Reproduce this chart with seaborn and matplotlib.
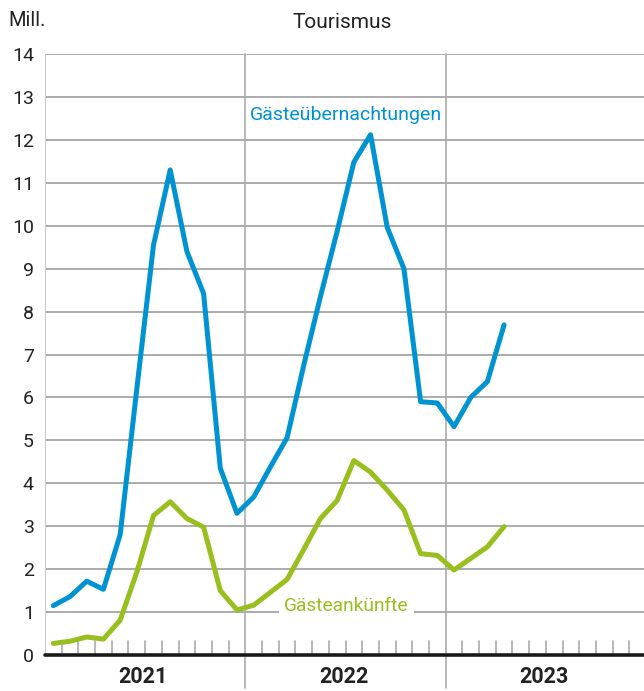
import matplotlib
matplotlib.use("Agg")
import matplotlib.pyplot as plt
import seaborn as sns
import pandas as pd
import numpy as np

years = ["2021", "2022", "2023"]
months_per_year = 12
# monthly values Jan 2021 .. Apr 2023 (Mill.)
uebernachtungen = [1.15, 1.36, 1.72, 1.53, 2.80, 6.2, 9.55, 11.3, 9.4, 8.42, 4.35, 3.3,
                   3.68, 4.38, 5.06, 6.75, 8.35, 9.87, 11.48, 12.12, 9.96, 9.0, 5.9, 5.87,
                   5.32, 6.0, 6.37, 7.69]
ankuenfte = [0.27, 0.32, 0.42, 0.37, 0.81, 1.93, 3.25, 3.57, 3.18, 2.98, 1.5, 1.05,
             1.16, 1.46, 1.76, 2.46, 3.18, 3.6, 4.53, 4.26, 3.84, 3.38, 2.36, 2.32,
             1.98, 2.25, 2.52, 2.99]
yticks = list(range(0, 15))

blue = "#0093D2"
green = "#98BF1E"
grid_c = "#ABABAB"

n = len(uebernachtungen)
df = pd.DataFrame({
    "x": np.arange(n) + 0.5,
    "Gästeübernachtungen": uebernachtungen,
    "Gästeankünfte": ankuenfte,
})
long = df.melt(id_vars="x", var_name="serie", value_name="wert")

sns.set_theme(style="white")
plt.rcParams["font.family"] = ["Roboto", "DejaVu Sans"]

fig = plt.figure(figsize=(6.44, 6.91), dpi=100)
ax = fig.add_axes([45 / 644, 1 - 655 / 691, 601 / 644, (655 - 54) / 691])

sns.lineplot(data=long, x="x", y="wert", hue="serie",
             palette={"Gästeübernachtungen": blue, "Gästeankünfte": green},
             linewidth=3.6, legend=False, ax=ax, zorder=3)

total = months_per_year * len(years)
ax.set_xlim(0, total)
ax.set_ylim(0, 14)

# horizontal grid
for v in yticks[1:]:
    ax.axhline(v, color=grid_c, lw=1.4, zorder=1)
ax.axhline(0, color="#1a1a1a", lw=2.6, zorder=4, clip_on=False)

# year boundaries
for k in range(1, len(years)):
    ax.plot([k * 12, k * 12], [-0.78, 14], color=grid_c, lw=1.2, clip_on=False, zorder=1)
ax.plot([0, 0], [0, 14], color="#C8C8C8", lw=1.4, zorder=1)

# month ticks
for m in range(1, total):
    if m % 12:
        ax.plot([m, m], [0, 0.33], color=grid_c, lw=1.2, zorder=2)

for s in ax.spines.values():
    s.set_visible(False)

ax.set_yticks(yticks)
ax.set_yticklabels([str(t) for t in yticks], fontsize=14, color="#222222")
ax.tick_params(axis="y", length=0, pad=8)
ax.set_xticks([])
ax.set_xlabel("")
ax.set_ylabel("")

for i, yname in enumerate(years):
    ax.text(i * 12 + 5.88, -0.52, yname, ha="center", va="center",
            fontsize=15.5, fontweight="bold", color="#222222")

fig.text(8 / 644, 1 - 20 / 691, "Mill.", ha="left", va="center", fontsize=14.5, color="#222222")
fig.text(342 / 644, 1 - 22 / 691, "Tourismus", ha="center", va="center", fontsize=15, color="#222222")

ax.text(18.03, 12.59, "Gästeübernachtungen", ha="center", va="center", fontsize=14,
        color=blue, zorder=5)
ax.text(18.06, 1.13, "Gästeankünfte", ha="center", va="center", fontsize=13.8,
        color=green, zorder=5,
        bbox=dict(facecolor="white", edgecolor="none", pad=4))

fig.savefig("out.png", dpi=100)
